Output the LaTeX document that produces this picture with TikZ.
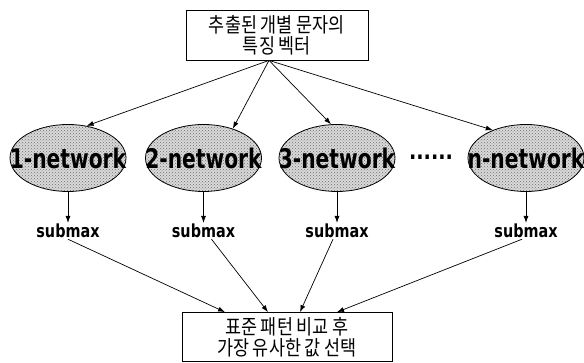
\documentclass[tikz,border=0pt]{standalone}
\usepackage{fontspec}
\usepackage{tikz}
\usetikzlibrary{arrows.meta,positioning,patterns,shapes.geometric}
\newfontfamily\kofont[FakeStretch=0.85]{Noto Sans CJK KR}
\newfontfamily\netfont[FakeStretch=0.75]{DejaVu Sans}
\newfontfamily\subfont[FakeStretch=0.8]{DejaVu Sans}
\definecolor{ink}{HTML}{000000}
\definecolor{shade}{HTML}{D9D9D9}
\definecolor{speck}{HTML}{6E6E6E}
\tikzset{
  box/.style={draw=ink, line width=0.8pt, align=center, font=\kofont\fontsize{20.5}{21}\selectfont, inner sep=0pt},
  net/.style={ellipse, draw=ink, line width=0.8pt, minimum width=116pt, minimum height=67pt, inner sep=0pt,
    preaction={fill=shade}, pattern=crosshatch dots, pattern color=speck, label={[netlab]center:#1}},
  netlab/.style={font=\netfont\bfseries\fontsize{27}{27}\selectfont, text=ink},
  sub/.style={font=\subfont\bfseries\fontsize{18}{18}\selectfont, text=ink, inner sep=1pt},
  dotsl/.style={font=\subfont\bfseries\fontsize{24}{24}\selectfont, text=ink, inner sep=0pt},
  arr/.style={draw=ink, line width=0.7pt, -{Latex[length=7pt,width=5pt]}},
}
\begin{document}
\begin{tikzpicture}[x=1pt,y=1pt]
\useasboundingbox (0,0) rectangle (584,363);
\node[box, minimum width=182pt, minimum height=50pt] (feat) at (277,328) {추출된 개별 문자의\\특징 벡터};
\node[net=1-network] (net1) at (68,205) {};
\node[net=2-network] (net2) at (203.5,205) {};
\node[net=3-network] (net3) at (337,205) {};
\node[net=n-network] (netn) at (526,205) {};
\node[dotsl] (dots) at (431,206) {......};
\node[sub, below=31pt of net1] (sub1) {submax};
\node[sub, below=31pt of net2] (sub2) {submax};
\node[sub, below=31pt of net3] (sub3) {submax};
\node[sub, below=31pt of netn] (subn) {submax};
\node[box, minimum width=210pt, minimum height=49pt] (res) at (287,26) {표준 패턴 비교 후\\가장 유사한 값 선택};
\draw[arr] ([xshift=-8pt]feat.south) -- (net1.60);
\draw[arr] ([xshift=-8pt]feat.south) -- (net2.45);
\draw[arr] ([xshift=-8pt]feat.south) -- (net3.100);
\draw[arr] ([xshift=-8pt]feat.south) -- (netn.140);
\foreach \i in {1,2,3,n}
  \draw[arr] (net\i) -- (sub\i);
\draw[arr] (sub1.south) -- ([xshift=-62pt]res.north);
\draw[arr] ([xshift=8pt]sub2.south) -- ([xshift=-19pt]res.north);
\draw[arr] ([xshift=-4pt]sub3.south) -- ([xshift=13pt]res.north);
\draw[arr] ([xshift=-4pt]subn.south) -- ([xshift=50pt]res.north);
\end{tikzpicture}
\end{document}
